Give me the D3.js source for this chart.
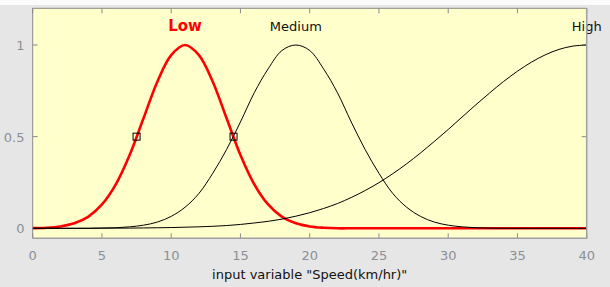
<!DOCTYPE html>
<html>
<head>
<meta charset="utf-8">
<script src="https://cdn.jsdelivr.net/npm/d3@7"></script>
<style>
    body { margin: 0; background: #e6e6e6; }
    svg { display: block; }
    text { font-family: "DejaVu Sans", sans-serif; }
</style>
</head>
<body>
<script>
// input values, 0..40 km/hr in steps of 1
const speed = d3.range(0, 41)

// membership values
const low = [0.001, 0.003, 0.010, 0.027, 0.062, 0.13, 0.24, 0.40, 0.60, 0.80,
    0.945, 1, 0.945, 0.80, 0.60, 0.40, 0.24, 0.13, 0.062, 0.027,
    0.010, 0.003, 0, 0, 0, 0, 0, 0, 0, 0,
    0, 0, 0, 0, 0, 0, 0, 0, 0, 0, 0]
const medium = [0, 0, 0, 0, 0, 0.001, 0.003, 0.008, 0.017, 0.034,
    0.065, 0.115, 0.19, 0.30, 0.43, 0.58, 0.74, 0.87, 0.97, 1,
    0.97, 0.87, 0.74, 0.58, 0.43, 0.30, 0.19, 0.115, 0.065, 0.034,
    0.017, 0.008, 0.003, 0.001, 0, 0, 0, 0, 0, 0, 0]
const high = [0, 0, 0, 0, 0, 0.001, 0.001, 0.001, 0.002, 0.003,
    0.004, 0.006, 0.008, 0.011, 0.015, 0.021, 0.029, 0.038, 0.050, 0.066,
    0.085, 0.108, 0.135, 0.168, 0.206, 0.249, 0.298, 0.352, 0.411, 0.474,
    0.539, 0.607, 0.674, 0.739, 0.801, 0.857, 0.906, 0.946, 0.976, 0.994, 1]

const mfNames = ["Low", "Medium", "High"]
const mfPeaks = [11, 19, 40]
const markers = [[7.5, 0.5], [14.5, 0.5]]
const xTicks = [0, 5, 10, 15, 20, 25, 30, 35, 40]
const yTicks = [0, 0.5, 1]
const yTickLabels = ["0", "0.5", "1"]
const xLabel = 'input variable "Speed(km/hr)"'

const W = 610, H = 287
const box = { left: 32.7, right: 586.7, top: 8.3, bottom: 238.3 }

const svg = d3.select("body")
    .append("svg")
    .attr("width", W)
    .attr("height", H)

svg.append("rect").attr("x", 0).attr("y", 0).attr("width", W).attr("height", 5).attr("fill", "#fbfbfb")

const x = d3.scaleLinear().domain([0, 40]).range([box.left, box.right])
const y = d3.scaleLinear().domain([0, 1]).range([228.3, 45])

svg.append("rect")
    .attr("x", box.left).attr("y", box.top)
    .attr("width", box.right - box.left).attr("height", box.bottom - box.top)
    .attr("fill", "#ffffcc")

// inner ticks on all four sides
const tickColor = "#8a8a8a"
const g = svg.append("g")
xTicks.forEach(t => {
    g.append("line").attr("x1", x(t)).attr("x2", x(t)).attr("y1", box.bottom).attr("y2", box.bottom - 5).attr("stroke", tickColor)
    g.append("line").attr("x1", x(t)).attr("x2", x(t)).attr("y1", box.top).attr("y2", box.top + 5).attr("stroke", tickColor)
})
yTicks.forEach(t => {
    g.append("line").attr("x1", box.left).attr("x2", box.left + 5).attr("y1", y(t)).attr("y2", y(t)).attr("stroke", tickColor)
    g.append("line").attr("x1", box.right).attr("x2", box.right - 5).attr("y1", y(t)).attr("y2", y(t)).attr("stroke", tickColor)
})

svg.selectAll(".xt")
    .data(xTicks)
    .enter()
    .append("text")
    .attr("class", "xt")
    .attr("x", d => x(d))
    .attr("y", 260)
    .attr("text-anchor", "middle")
    .attr("font-size", 13)
    .attr("fill", "#8c8f96")
    .text(d => d)

svg.selectAll(".yt")
    .data(yTicks)
    .enter()
    .append("text")
    .attr("class", "yt")
    .attr("x", 24.5)
    .attr("y", d => y(d) + 5)
    .attr("text-anchor", "end")
    .attr("font-size", 13)
    .attr("fill", "#8c8f96")
    .text((d, i) => yTickLabels[i])

svg.append("text")
    .attr("x", (box.left + box.right) / 2)
    .attr("y", 279)
    .attr("text-anchor", "middle")
    .attr("font-size", 13)
    .attr("fill", "#111")
    .text(xLabel)

const line = d3.line()
    .x((d, i) => x(speed[i]))
    .y(d => y(d))
    .curve(d3.curveCatmullRom.alpha(0.5))

svg.append("path").datum(low).attr("d", line).attr("fill", "none").attr("stroke", "#ff0000").attr("stroke-width", 2.6)
svg.append("path").datum(medium).attr("d", line).attr("fill", "none").attr("stroke", "#000").attr("stroke-width", 1)
svg.append("path").datum(high).attr("d", line).attr("fill", "none").attr("stroke", "#000").attr("stroke-width", 1)

svg.selectAll(".mk")
    .data(markers)
    .enter()
    .append("rect")
    .attr("class", "mk")
    .attr("x", d => x(d[0]) - 3.5)
    .attr("y", d => y(d[1]) - 3.5)
    .attr("width", 7)
    .attr("height", 7)
    .attr("fill", "none")
    .attr("stroke", "#000")

svg.selectAll(".mf")
    .data(mfNames)
    .enter()
    .append("text")
    .attr("class", "mf")
    .attr("x", (d, i) => x(mfPeaks[i]))
    .attr("y", 30.5)
    .attr("text-anchor", "middle")
    .attr("font-size", (d, i) => i == 0 ? 15 : 13)
    .attr("font-weight", (d, i) => i == 0 ? "bold" : "normal")
    .attr("fill", (d, i) => i == 0 ? "#ff0000" : "#111")
    .text(d => d)

// frame: darker on top/left, lighter with shadow on right/bottom
svg.append("path")
    .attr("d", `M${box.left},${box.bottom}V${box.top}H${box.right}`)
    .attr("fill", "none").attr("stroke", "#8a8a8a")
svg.append("path")
    .attr("d", `M${box.left},${box.bottom}H${box.right}V${box.top}`)
    .attr("fill", "none").attr("stroke", "#a0a0a0").attr("stroke-width", 1.5)
</script>
</body>
</html>
